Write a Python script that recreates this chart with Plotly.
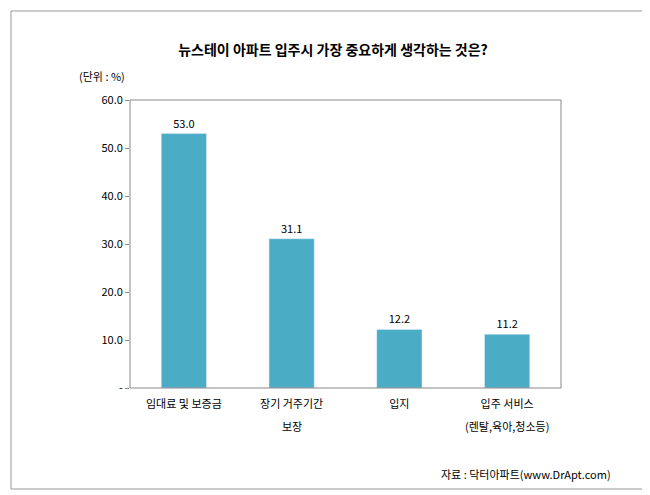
import plotly.graph_objects as go

categories = ["임대료 및 보증금", "장기 거주기간", "입지", "입주 서비스"]
second_lines = ["", "보장", "", "(렌탈,육아,청소등)"]
values = [53.0, 31.1, 12.2, 11.2]
tick_vals = [0, 10, 20, 30, 40, 50, 60]
tick_text = ["-", "10.0", "20.0", "30.0", "40.0", "50.0", "60.0"]

L, R, T, B = 122, 97, 92, 115
W, H = 650, 495
pw, ph = W - L - R, H - T - B

fig = go.Figure(go.Bar(
    x=categories, y=values, marker_color="#4BACC6", width=0.42,
    text=[f"{v:.1f}" for v in values], textposition="outside",
    textfont=dict(size=11, color="#000"), cliponaxis=False))

annos = [
    dict(text="(단위 : %)", xref="paper", yref="paper", x=-0.065, y=1.05,
         xanchor="center", yanchor="bottom", showarrow=False, font=dict(size=11)),
    dict(text="자료 : 닥터아파트(www.DrApt.com)", xref="paper", yref="paper",
         x=1.12, y=-0.30, xanchor="right", yanchor="middle", showarrow=False, font=dict(size=11)),
]
for c, s in zip(categories, second_lines):
    if s:
        annos.append(dict(text=s, xref="x", yref="paper", x=c, y=-28 / ph, xanchor="center",
                          yanchor="top", showarrow=False, font=dict(size=11)))

fig.update_layout(
    width=W, height=H, paper_bgcolor="white", plot_bgcolor="white",
    font=dict(family="Noto Sans CJK KR", size=11, color="#000"),
    margin=dict(l=L, r=R, t=T, b=B),
    showlegend=False,
    title=dict(text="<b>뉴스테이 아파트 입주시 가장 중요하게 생각하는 것은?</b>",
               x=0.5, xanchor="center", y=0.915, yanchor="middle", font=dict(size=14)),
    shapes=[dict(type="rect", xref="paper", yref="paper",
                 x0=-(L - 3) / pw, x1=1 + (R - 12) / pw, y0=-(B - 14) / ph, y1=1 + (T - 3) / ph,
                 line=dict(color="#999", width=1)),
            dict(type="rect", xref="x domain", yref="y domain", x0=0, x1=1, y0=0, y1=1,
                 line=dict(color="#888", width=1))],
    annotations=annos,
)
fig.update_yaxes(range=[0, 60], tickvals=tick_vals, ticktext=tick_text, showgrid=False,
                 ticks="outside", ticklen=4, tickcolor="#888", zeroline=False)
fig.update_xaxes(showgrid=False, ticks="", tickfont=dict(size=11), ticklabelstandoff=8)
fig.write_html("out.html")
